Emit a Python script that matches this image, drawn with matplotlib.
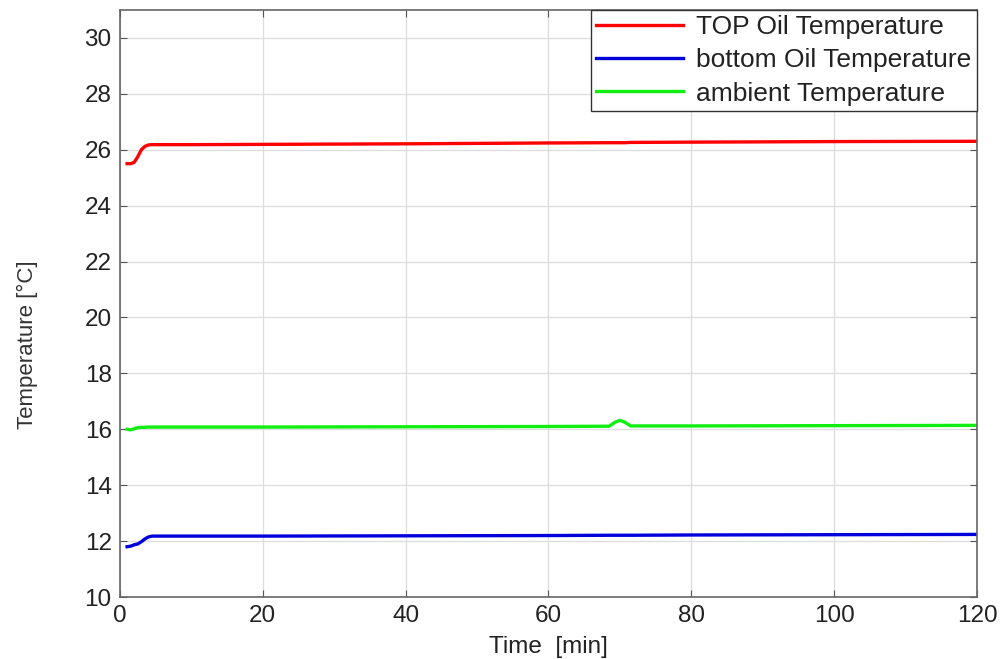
import matplotlib
matplotlib.use("Agg")
import matplotlib.pyplot as plt

plt.rcParams['font.family'] = ['Liberation Sans', 'DejaVu Sans']

# time in minutes
t = [1, 1.5, 2, 2.5, 3, 3.5, 4, 4.5, 5, 10, 20, 40, 60, 68.5, 69.3, 70, 70.7, 71.5, 80, 100, 120]
top_oil = [25.5, 25.5, 25.55, 25.75, 26.0, 26.12, 26.17, 26.18, 26.18, 26.18, 26.19, 26.21,
           26.24, 26.25, 26.25, 26.25, 26.25, 26.26, 26.27, 26.29, 26.3]
bottom_oil = [11.8, 11.82, 11.87, 11.9, 11.98, 12.08, 12.15, 12.18, 12.18, 12.18, 12.18, 12.19,
              12.2, 12.21, 12.21, 12.21, 12.21, 12.21, 12.22, 12.23, 12.24]
ambient = [16.0, 15.98, 16.02, 16.06, 16.07, 16.07, 16.08, 16.08, 16.08, 16.08, 16.08, 16.09,
           16.1, 16.11, 16.25, 16.32, 16.25, 16.12, 16.12, 16.13, 16.14]

fig = plt.figure(figsize=(10.03, 6.59), dpi=100)
ax = fig.add_axes([0.1196, 0.094, 0.8545, 0.891])

ax.plot(t, top_oil, color='#ff0000', lw=2.4, label='TOP Oil Temperature')
ax.plot(t, bottom_oil, color='#0000dd', lw=2.4, label='bottom Oil Temperature')
ax.plot(t, ambient, color='#11ee11', lw=2.4, label='ambient Temperature')

ax.set_xlim(0, 120)
ax.set_ylim(10, 31)
ax.set_xticks(range(0, 121, 20))
ax.set_yticks(range(10, 31, 2))
ax.grid(True, color='#dddddd', lw=0.9)
ax.tick_params(direction='in', top=True, right=True, labelsize=17.5, length=5,
               color='#555555', labelcolor='#222222', pad=6)
for s in ax.spines.values():
    s.set_color('#666666')
    s.set_linewidth(1.2)

ax.set_xlabel('Time  [min]', fontsize=17.5, labelpad=6, color='#222222')
ax.set_ylabel('Temperature [°C]', fontsize=16, color='#333333')
ax.yaxis.set_label_coords(-0.096, 0.43)

leg = ax.legend(loc='upper right', fontsize=19, fancybox=False, framealpha=1,
                borderaxespad=0, handlelength=3.3, labelspacing=0.35,
                handletextpad=0.5, borderpad=0.2)
leg.get_frame().set_edgecolor('#333333')
for txt in leg.get_texts():
    txt.set_color('#222222')

fig.savefig('out.png', dpi=100)
